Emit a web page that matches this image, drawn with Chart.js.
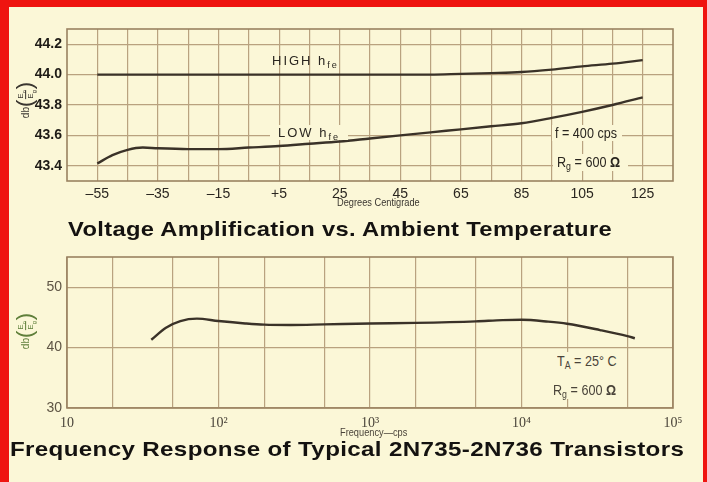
<!DOCTYPE html>
<html>
<head>
<meta charset="utf-8">
<script src="https://cdn.jsdelivr.net/npm/chart.js@4.4.1/dist/chart.umd.min.js"></script>
<style>
    html, body { margin: 0; padding: 0; }
    body { width: 707px; height: 482px; position: relative; overflow: hidden; background: #fbf7d7; }
    .red { position: absolute; background: #ef1410; }
    canvas { position: absolute; left: 0; }
    .lbl { position: absolute; white-space: nowrap; color: #2a2620; }
    .narrow { font-family: 'Liberation Sans', Arial, sans-serif; transform: scaleX(0.84); transform-origin: left center; }
    .bg { background: #fbf7d7; text-align: center; }
    .title { font-family: 'Liberation Sans', Arial, sans-serif; font-weight: bold; font-size: 21px; line-height: 22px; color: #141210;
        transform-origin: left center; letter-spacing: 0.3px; }
    sub { font-size: 70%; vertical-align: -3px; line-height: 0; }
    .ytitle { position: absolute; transform: rotate(-90deg); transform-origin: center; font-family: 'Liberation Sans', sans-serif;
        font-size: 10px; display: flex; align-items: center; white-space: nowrap; }
    .ytitle .par { font-size: 22px; line-height: 22px; font-weight: 300; }
    .frac { display: inline-flex; flex-direction: column; align-items: center; font-size: 8px; line-height: 9px; margin: 0 1px; }
    .frac span:first-child { border-bottom: 1px solid currentColor; }
</style>
</head>
<body>
<div class="red" style="left:0;top:0;width:9px;height:482px"></div>
<div class="red" style="left:0;top:0;width:707px;height:7px"></div>
<div class="red" style="left:703px;top:0;width:4px;height:482px"></div>

<canvas id="cTemp" width="707" height="215" style="top:0"></canvas>
<canvas id="cFreq" width="707" height="205" style="top:235px"></canvas>

<!-- gráfica superior: textos -->
<div class="ytitle" style="left:7px;top:89px;color:#3a3630">db<span class="par">(</span><span class="frac"><span>E<sub>o</sub></span><span>E<sub>g</sub></span></span><span class="par">)</span></div>
<div class="lbl" style="left:272px;top:53px;font:13px 'Liberation Sans',sans-serif;letter-spacing:2px">HIGH h<sub>fe</sub></div>
<div class="lbl bg" style="left:270px;top:125px;width:78px;font:13px 'Liberation Sans',sans-serif;letter-spacing:2px">LOW h<sub>fe</sub></div>
<div class="lbl bg" style="left:552px;top:125px;width:70px;height:16px"></div>
<div class="lbl narrow" style="left:555px;top:125px;font-size:15px;line-height:16px">f = 400 cps</div>
<div class="lbl bg" style="left:553px;top:154px;width:75px;height:17px"></div>
<div class="lbl narrow" style="left:557px;top:154px;font-size:15px;line-height:16px">R<sub>g</sub> = 600 <b>Ω</b></div>
<div class="lbl narrow" style="left:337px;top:196px;font-size:11px;color:#3a3630">Degrees Centigrade</div>
<div class="lbl title" style="left:68px;top:218px;transform:scaleX(1.13)">Voltage Amplification vs. Ambient Temperature</div>

<!-- gráfica inferior: textos -->
<div class="ytitle" style="left:7px;top:320px;color:#5f7f3a">db<span class="par">(</span><span class="frac"><span>E<sub>o</sub></span><span>E<sub>g</sub></span></span><span class="par">)</span></div>
<div class="lbl bg" style="left:550px;top:352px;width:75px;height:47px"></div>
<div class="lbl narrow" style="left:557px;top:353px;font-size:15px;line-height:16px;color:#4a443a">T<sub>A</sub> = 25° C</div>
<div class="lbl narrow" style="left:553px;top:382px;font-size:15px;line-height:16px;color:#4a443a">R<sub>g</sub> = 600 <b>Ω</b></div>
<div class="lbl narrow" style="left:340px;top:426px;font-size:11px;color:#4a443a">Frequency—cps</div>
<div class="lbl title" style="left:10px;top:438px;transform:scaleX(1.15)">Frequency Response of Typical 2N735-2N736 Transistors</div>

<script>
// ── DATOS ──
const tempC = [-55, -50, -45, -40, -35, -25, -15, -5, 5, 15, 25, 35, 45, 55, 65, 75, 85, 95, 105, 115, 125];
const highHfe = [44.0, 44.0, 44.0, 44.0, 44.0, 44.0, 44.0, 44.0, 44.0, 44.0, 44.0, 44.0, 44.0, 44.0,
    44.005, 44.01, 44.017, 44.033, 44.054, 44.072, 44.095];
const lowHfe = [43.415, 43.47, 43.505, 43.52, 43.515, 43.51, 43.51, 43.52, 43.53, 43.545, 43.56, 43.58,
    43.6, 43.62, 43.64, 43.66, 43.68, 43.715, 43.755, 43.8, 43.85];

const tempGrid = [-55, -45, -35, -25, -15, -5, 5, 15, 25, 35, 45, 55, 65, 75, 85, 95, 105, 115, 125];
const tempTicks = [-55, -35, -15, 5, 25, 45, 65, 85, 105, 125];
const tempLabels = ['–55', '–35', '–15', '+5', '25', '45', '65', '85', '105', '125'];
const dbTicksTop = [43.4, 43.6, 43.8, 44.0, 44.2];

const freqCps = [36, 45, 56, 72, 100, 150, 200, 300, 500, 1000, 2000, 5000, 7500, 10000, 15000, 20000, 33000, 50000, 56000];
const gainDb = [41.3, 43.3, 44.4, 44.8, 44.4, 44.0, 43.8, 43.75, 43.85, 44.0, 44.1, 44.35, 44.55, 44.6, 44.3, 43.95, 42.9, 41.9, 41.55];

const freqGrid = [10, 20, 50, 100, 200, 500, 1000, 2000, 5000, 10000, 20000, 50000, 100000];
const freqTicks = [10, 100, 1000, 10000, 100000];
const freqLabels = ['10', '10²', '10³', '10⁴', '10⁵'];
const dbTicksBottom = [30, 40, 50];

// ── estilos ──
const GRID = '#b9a27f';
const FRAME = '#9a8261';
const INK = '#3a3228';
const SANS = "'Liberation Sans', Arial, sans-serif";

const framePlugin = {
    id: 'frame',
    beforeDatasetsDraw(chart) {
        const a = chart.chartArea;
        const c = chart.ctx;
        c.save();
        c.strokeStyle = FRAME;
        c.lineWidth = 1.6;
        c.strokeRect(a.left, a.top, a.right - a.left, a.bottom - a.top);
        c.restore();
    }
};

function setTicks(values) {
    return scale => { scale.ticks = values.map(v => ({ value: v })); };
}

function curve(xs, ys) {
    return {
        data: xs.map((x, i) => ({ x: x, y: ys[i] })),
        borderColor: INK,
        borderWidth: 2.4,
        pointRadius: 0,
        fill: false,
        cubicInterpolationMode: 'monotone'
    };
}

// Ganancia vs temperatura
new Chart(document.getElementById('cTemp'), {
    type: 'line',
    data: { datasets: [curve(tempC, highHfe), curve(tempC, lowHfe)] },
    options: {
        responsive: false,
        animation: false,
        layout: { padding: { left: 0, right: 34, top: 29, bottom: 0 } },
        plugins: { legend: { display: false }, tooltip: { enabled: false } },
        scales: {
            x: {
                type: 'linear', min: -65, max: 135,
                afterBuildTicks: setTicks(tempGrid),
                afterFit: s => { s.height = 34; },
                grid: { color: GRID, lineWidth: 1.2, drawTicks: false },
                border: { display: false },
                ticks: {
                    autoSkip: false, maxRotation: 0, padding: 5, color: '#2a2620',
                    font: { family: SANS, size: 14 },
                    callback: v => { const i = tempTicks.indexOf(v); return i < 0 ? '' : tempLabels[i]; }
                }
            },
            y: {
                min: 43.3, max: 44.3,
                afterBuildTicks: setTicks(dbTicksTop),
                afterFit: s => { s.width = 67; },
                grid: { color: GRID, lineWidth: 1.2, drawTicks: false },
                border: { display: false },
                ticks: {
                    padding: 5, color: '#1e1b16',
                    font: { family: SANS, size: 14, weight: 'bold' },
                    callback: v => v.toFixed(1)
                }
            }
        }
    },
    plugins: [framePlugin]
});

// Respuesta en frecuencia
new Chart(document.getElementById('cFreq'), {
    type: 'line',
    data: { datasets: [curve(freqCps, gainDb)] },
    options: {
        responsive: false,
        animation: false,
        layout: { padding: { left: 0, right: 34, top: 22, bottom: 0 } },
        plugins: { legend: { display: false }, tooltip: { enabled: false } },
        scales: {
            x: {
                type: 'logarithmic', min: 10, max: 100000,
                afterBuildTicks: setTicks(freqGrid),
                afterFit: s => { s.height = 32; },
                grid: { color: GRID, lineWidth: 1.2, drawTicks: false },
                border: { display: false },
                ticks: {
                    autoSkip: false, maxRotation: 0, padding: 7, color: '#4a443a',
                    font: { family: "'Liberation Serif', serif", size: 14 },
                    callback: v => { const i = freqTicks.indexOf(v); return i < 0 ? '' : freqLabels[i]; }
                }
            },
            y: {
                min: 30, max: 55,
                afterBuildTicks: setTicks(dbTicksBottom),
                afterFit: s => { s.width = 67; },
                grid: { color: GRID, lineWidth: 1.2, drawTicks: false },
                border: { display: false },
                ticks: {
                    padding: 5, color: '#5e5444',
                    font: { family: SANS, size: 14 }
                }
            }
        }
    },
    plugins: [framePlugin]
});
</script>
</body>
</html>
